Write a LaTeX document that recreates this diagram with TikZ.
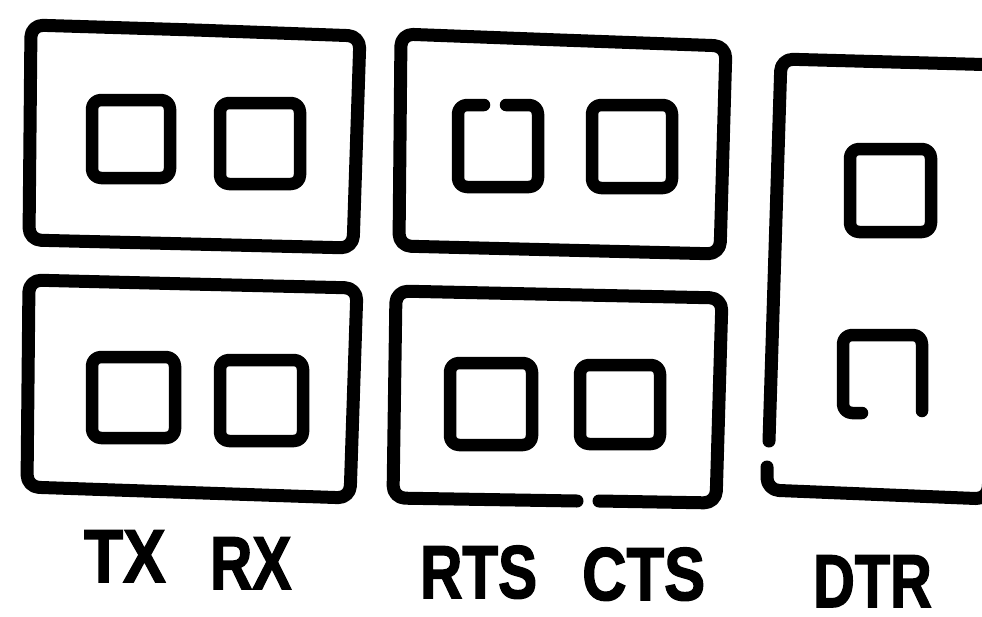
\documentclass[tikz,border=0pt]{standalone}
\usepackage{fontspec}
\setmainfont{Liberation Sans}
\newfontfamily\heavyfont[FakeBold=2]{Liberation Sans Bold}
\begin{document}
\begin{tikzpicture}[x=1pt,y=-1pt,
  frame/.style={line width=13pt, rounded corners=12pt, line join=round, line cap=round},
  socket/.style={line width=12.5pt, rounded corners=9pt, line join=round, line cap=round},
  lbl/.style={font=\fontsize{75}{75}\selectfont\heavyfont, inner sep=0pt, anchor=base west}]
\useasboundingbox (0,0) rectangle (982,616);
\begin{scope}
\clip (0,0) rectangle (982,616);
% outer frames
\draw[frame] (195,30) -- (360,36) -- (353,248) -- (29,240) -- (31,25) -- cycle;
\draw[frame] (190,284) -- (357,288) -- (350,498) -- (27,487) -- (29,280) -- cycle;
\draw[frame] (560,40) -- (726,46) -- (720,254) -- (399,246) -- (401,34) -- cycle;
\draw[frame] (599,501) -- (716,503) -- (722,298) -- (396,291) -- (393,498) -- (577,501);
\draw[frame] (769,441) -- (781,59) -- (1002,65) -- (988,499) -- (767,490) -- (767,467);
% sockets
\draw[socket] (92,100) rectangle (170,178);
\draw[socket] (220,103) rectangle (300,184);
\draw[socket] (92,357) rectangle (175,438);
\draw[socket] (220,360) rectangle (303,441);
\draw[socket] (506,105) -- (538,105) -- (538,187) -- (458,187) -- (458,105) -- (484,105);
\draw[socket] (592,105) rectangle (672,188);
\draw[socket] (450,363) rectangle (532,445);
\draw[socket] (580,365) rectangle (660,444);
\draw[socket] (850,149) rectangle (931,232);
\draw[socket] (862,413) -- (843,413) -- (843,335) -- (922,335) -- (922,411);
% labels
\node[lbl, xscale=0.85] (tx) at (84,582) {TX};
\node[lbl, xscale=0.78] (rx) at (210,589) {RX};
\node[lbl, xscale=0.78] (rts) at (420,598) {RTS};
\node[lbl, xscale=0.82] (cts) at (582,600) {CTS};
\node[lbl, xscale=0.77] (dtr) at (813,607) {DTR};
\end{scope}
\end{tikzpicture}
\end{document}
